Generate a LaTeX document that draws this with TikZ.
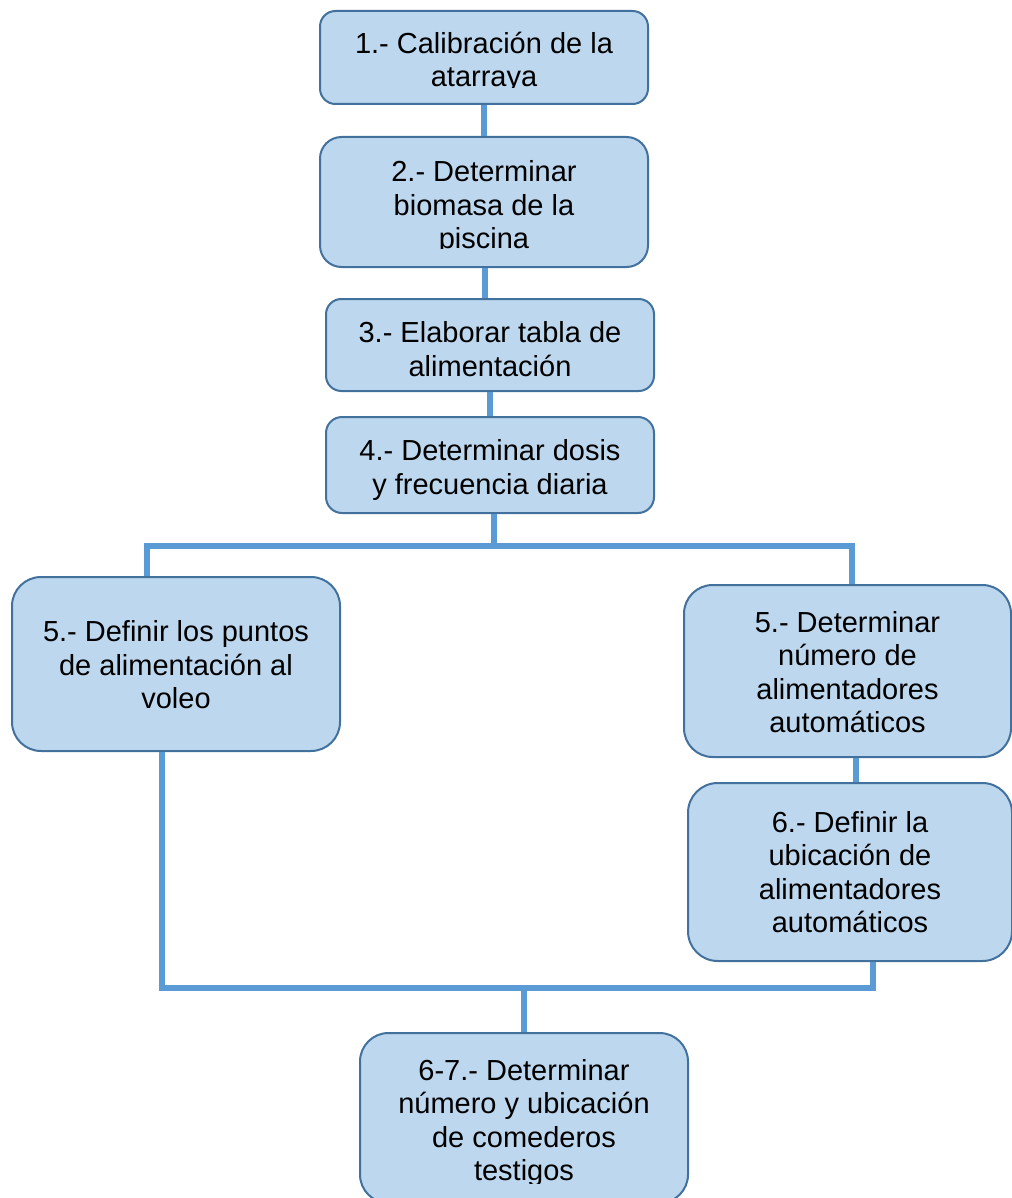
\documentclass[tikz,border=0pt]{standalone}
\usepackage{fontspec}
\setmainfont{Liberation Sans}
\definecolor{boxfill}{HTML}{BDD7EE}
\definecolor{boxline}{HTML}{41719C}
\definecolor{connc}{HTML}{5B9BD5}
\tikzset{
  stepbox/.style={draw=boxline, fill=boxfill, line width=2pt, inner sep=0pt},
  steptext/.style={align=center, inner sep=0pt, text=black, font=\fontsize{29}{33.5}\selectfont},
  conn/.style={draw=connc, line width=5.5pt}
}
\begin{document}
\begin{tikzpicture}[x=1pt,y=-1pt]
\useasboundingbox (0,0) rectangle (1011,1198);
% boxes
\node[stepbox, minimum width=328, minimum height=93, rounded corners=15.5] (b1) at (484,57.5) {};
\node[stepbox, minimum width=328, minimum height=130, rounded corners=21.5] (b2) at (484,202) {};
\node[stepbox, minimum width=328, minimum height=92, rounded corners=15.3] (b3) at (490,345) {};
\node[stepbox, minimum width=328, minimum height=96, rounded corners=16] (b4) at (490,465) {};
\node[stepbox, minimum width=328, minimum height=174, rounded corners=29] (b5l) at (176,664) {};
\node[stepbox, minimum width=327, minimum height=172, rounded corners=28.7] (b5r) at (847.5,671) {};
\node[stepbox, minimum width=324, minimum height=178, rounded corners=29.7] (b6r) at (850,872) {};
\node[stepbox, minimum width=328, minimum height=170, rounded corners=28.5] (b67) at (524,1118) {};
% texts
\begin{scope}
\clip (320,0) rectangle (648,88);
\node[steptext] (t1) at (484,62.5) {1.- Calibración de la\\atarraya};
\end{scope}
\begin{scope}
\clip (320,130) rectangle (648,248);
\node[steptext] (t2) at (484,208) {2.- Determinar\\biomasa de la\\piscina};
\end{scope}
\node[steptext] (t3) at (490,349) {3.- Elaborar tabla de\\alimentación};
\node[steptext] (t4) at (490,470) {4.- Determinar dosis\\y frecuencia diaria};
\node[steptext] (t5l) at (176,665) {5.- Definir los puntos\\de alimentación al\\voleo};
\node[steptext] (t5r) at (847.5,672) {5.- Determinar\\número de\\alimentadores\\automáticos};
\node[steptext] (t6r) at (850,872) {6.- Definir la\\ubicación de\\alimentadores\\automáticos};
\begin{scope}
\clip (360,1030) rectangle (688,1183);
\node[steptext] (t67) at (524,1123) {6-7.- Determinar\\número y ubicación\\de comederos\\testigos};
\end{scope}
% connector coordinates
\coordinate (fk) at (494,546);
\coordinate (fl) at (147,546);
\coordinate (fr) at (852,546);
\coordinate (jl) at (162,988);
\coordinate (jr) at (873,988);
\coordinate (jc) at (524,988);
\coordinate (c56) at (856,0);
\coordinate (c23) at (485,0);
% connectors
\draw[conn] (b1.south) -- (b2.north);
\draw[conn] (b2.south -| c23) -- (b3.north -| c23);
\draw[conn] (b3.south) -- (b4.north);
\draw[conn] (b4.south -| fk) -- (fk);
\draw[conn] (b5l.north -| fl) -- (fl) -- (fr) -- (b5r.north -| fr);
\draw[conn] (b5r.south -| c56) -- (b6r.north -| c56);
\draw[conn] (b5l.south -| jl) -- (jl) -- (jr) -- (b6r.south -| jr);
\draw[conn] (jc) -- (b67.north -| jc);
\end{tikzpicture}
\end{document}
